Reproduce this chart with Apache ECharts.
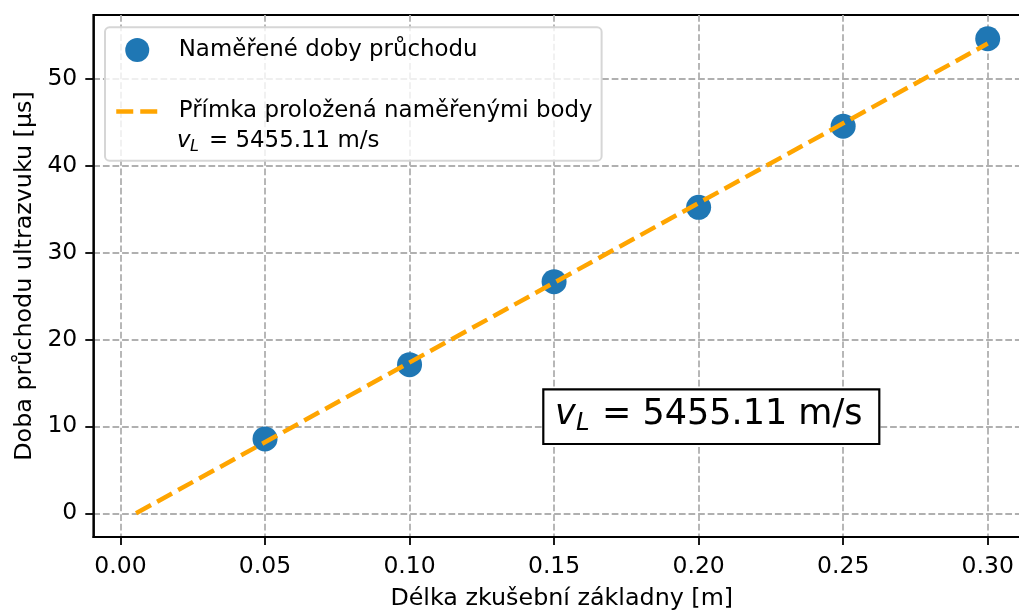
<!DOCTYPE html>
<html>
<head>
<meta charset="utf-8">
<script src="https://cdn.jsdelivr.net/npm/echarts@6/dist/echarts.min.js"></script>
<style>
  html, body { margin: 0; padding: 0; background: #ffffff; }
  #chart { width: 1019px; height: 611px; }
</style>
</head>
<body>
<div id="chart"></div>
<script>
// Measured transit times of ultrasound vs. test base length
const baseLengths = [0.05, 0.10, 0.15, 0.20, 0.25, 0.30];        // m
const transitTimes = [8.56, 17.1, 26.65, 35.2, 44.54, 54.6];      // µs

// Fitted straight line (end points)
const fitLengths = [0.0054, 0.30];
const fitTimes = [0, 54.04];

// Tick values
const xTicks = [0, 0.05, 0.10, 0.15, 0.20, 0.25, 0.30];
const yTicks = [0, 10, 20, 30, 40, 50];

// Texts
const seriesPointsName = 'Naměřené doby průchodu';
const seriesLineName = 'Přímka proložená naměřenými body';
const speedValue = '= 5455.11 m/s';
const xAxisName = 'Délka zkušební základny [m]';
const yAxisName = 'Doba průchodu ultrazvuku [µs]';

const FONT = 'DejaVu Sans';
const TICK_FS = 23.5;
const NAME_FS = 23.8;
const LEGEND_FS = 22.9;
const BOX_FS = 35;

const chart = echarts.init(document.getElementById('chart'), null, { renderer: 'canvas' });

const pointData = baseLengths.map((x, i) => [x, transitTimes[i]]);
const lineData = fitLengths.map((x, i) => [x, fitTimes[i]]);

const gridLine = { show: true, lineStyle: { color: '#b0b0b0', width: 1.8, type: [6.7, 2.9] } };
const fitLineStyle = { color: '#ffa500', width: 4.5, type: [17, 7] };

function txt(x, y, text, size, italic) {
  return {
    type: 'text', x: x, y: y, z: 200,
    style: {
      text: text, fontFamily: FONT, fontStyle: italic ? 'italic' : 'normal',
      fontSize: size, fill: '#000000', verticalAlign: 'middle'
    }
  };
}

const option = {
  animation: false,
  backgroundColor: '#ffffff',
  textStyle: { fontFamily: FONT },
  grid: {
    left: 93.3, top: 15, width: 936.9, height: 522,
    outerBoundsMode: 'none',
    show: true, borderColor: '#000000', borderWidth: 1.8, backgroundColor: 'transparent'
  },
  legend: {
    orient: 'vertical',
    left: 105, top: 27.3,
    padding: [10.7, 9, 37.7, 9],
    itemWidth: 42, itemHeight: 24, itemGap: 38,
    backgroundColor: 'rgba(255,255,255,0.8)',
    borderColor: '#d6d6d6', borderWidth: 2, borderRadius: 4.5,
    textStyle: { fontFamily: FONT, fontSize: LEGEND_FS, color: '#000000', padding: [0, 0, 0, 15.5] },
    data: [
      { name: seriesPointsName, icon: 'circle' },
      { name: seriesLineName, itemStyle: { opacity: 0 }, lineStyle: fitLineStyle }
    ]
  },
  xAxis: {
    type: 'value',
    min: -0.0094, max: 0.3147,
    name: xAxisName, nameLocation: 'middle', nameGap: 50,
    nameTextStyle: { fontFamily: FONT, fontSize: NAME_FS, color: '#000000' },
    axisLine: { show: true, onZero: false, lineStyle: { color: '#000000', width: 1.8 } },
    axisTick: { show: true, length: 8, customValues: xTicks, lineStyle: { color: '#000000', width: 1.8 } },
    axisLabel: {
      customValues: xTicks, margin: 18, fontFamily: FONT, fontSize: TICK_FS, color: '#000000',
      formatter: v => v.toFixed(2)
    },
    splitLine: gridLine
  },
  yAxis: {
    type: 'value',
    min: -2.73, max: 57.33,
    name: yAxisName, nameLocation: 'middle', nameGap: 56,
    nameTextStyle: { fontFamily: FONT, fontSize: NAME_FS, color: '#000000' },
    axisLine: { show: true, onZero: false, lineStyle: { color: '#000000', width: 1.8 } },
    axisTick: { show: true, length: 8, customValues: yTicks, lineStyle: { color: '#000000', width: 1.8 } },
    axisLabel: {
      customValues: yTicks, margin: 16, fontFamily: FONT, fontSize: TICK_FS, color: '#000000',
      formatter: v => String(Math.round(v))
    },
    splitLine: gridLine
  },
  series: [
    {
      name: seriesPointsName,
      type: 'scatter',
      data: pointData,
      symbol: 'circle',
      symbolSize: 25,
      itemStyle: { color: '#1f77b4', opacity: 1 },
      z: 2
    },
    {
      name: seriesLineName,
      type: 'line',
      data: lineData,
      symbol: 'none',
      showSymbol: false,
      lineStyle: fitLineStyle,
      itemStyle: { color: '#ffa500' },
      z: 3
    }
  ],
  graphic: [
    // second line of the fit legend entry: v_L = ...
    txt(177, 141.3, 'v', LEGEND_FS, true),
    txt(190, 147.3, 'L', 16, true),
    txt(209, 141.3, speedValue, LEGEND_FS, false),
    // boxed annotation with the speed of sound
    {
      type: 'rect', z: 150,
      shape: { x: 543.3, y: 389.3, width: 336, height: 54.7 },
      style: { fill: '#ffffff', stroke: '#000000', lineWidth: 2.2 }
    },
    txt(555, 414.6, 'v', BOX_FS, true),
    txt(576, 423.9, 'L', 24.5, true),
    txt(602, 414.6, speedValue, BOX_FS, false)
  ]
};

chart.setOption(option);
</script>
</body>
</html>
